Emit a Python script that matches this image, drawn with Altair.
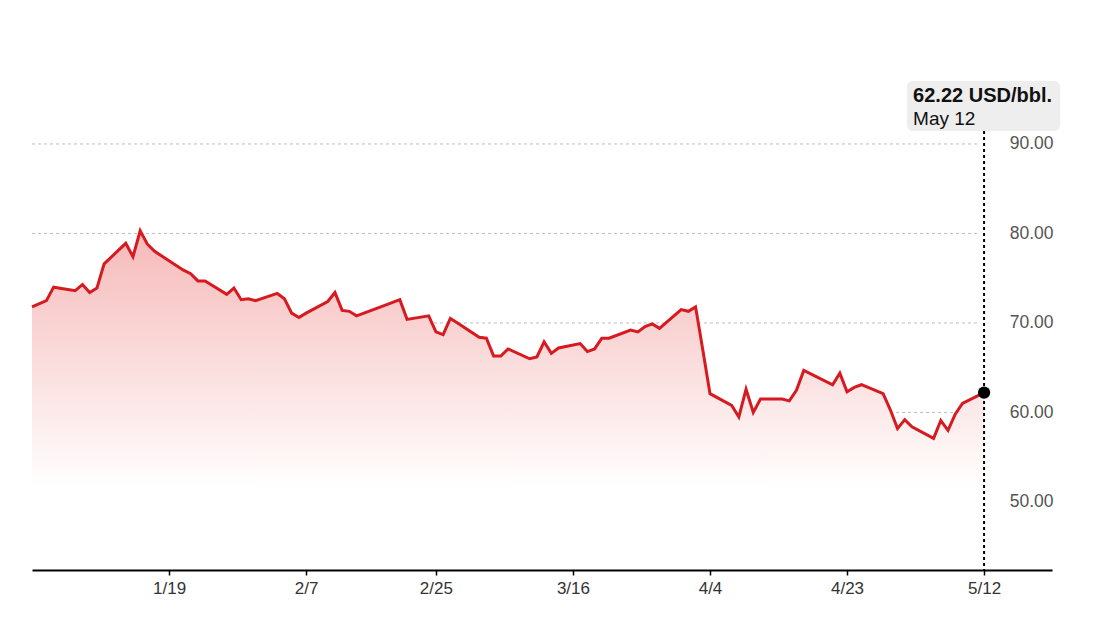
import altair as alt
import pandas as pd

# ---- data ----
dates = [
    "2024-12-31", "2025-01-02", "2025-01-03", "2025-01-06", "2025-01-07", "2025-01-08",
    "2025-01-09", "2025-01-10", "2025-01-13", "2025-01-14", "2025-01-15", "2025-01-16",
    "2025-01-17", "2025-01-21", "2025-01-22", "2025-01-23", "2025-01-24", "2025-01-27",
    "2025-01-28", "2025-01-29", "2025-01-30", "2025-01-31", "2025-02-03", "2025-02-04",
    "2025-02-05", "2025-02-06", "2025-02-07", "2025-02-10", "2025-02-11", "2025-02-12",
    "2025-02-13", "2025-02-14", "2025-02-18", "2025-02-19", "2025-02-20", "2025-02-21",
    "2025-02-24", "2025-02-25", "2025-02-26", "2025-02-27", "2025-02-28", "2025-03-03",
    "2025-03-04", "2025-03-05", "2025-03-06", "2025-03-07", "2025-03-10", "2025-03-11",
    "2025-03-12", "2025-03-13", "2025-03-14", "2025-03-17", "2025-03-18", "2025-03-19",
    "2025-03-20", "2025-03-21", "2025-03-24", "2025-03-25", "2025-03-26", "2025-03-27",
    "2025-03-28", "2025-03-31", "2025-04-01", "2025-04-02", "2025-04-03", "2025-04-04",
    "2025-04-07", "2025-04-08", "2025-04-09", "2025-04-10", "2025-04-11", "2025-04-14",
    "2025-04-15", "2025-04-16", "2025-04-17", "2025-04-21", "2025-04-22", "2025-04-23",
    "2025-04-24", "2025-04-25", "2025-04-28", "2025-04-29", "2025-04-30", "2025-05-01",
    "2025-05-02", "2025-05-05", "2025-05-06", "2025-05-07", "2025-05-08", "2025-05-09",
    "2025-05-12",
]
prices = [
    71.8, 72.5, 74.0, 73.6, 74.3, 73.4,
    73.9, 76.6, 78.9, 77.4, 80.3, 78.8,
    78.0, 75.9, 75.5, 74.7, 74.7, 73.2,
    73.9, 72.6, 72.7, 72.5, 73.3, 72.7,
    71.1, 70.6, 71.1, 72.4, 73.4, 71.4,
    71.3, 70.8, 72.0, 72.3, 72.6, 70.4,
    70.8, 69.0, 68.7, 70.5, 70.0, 68.4,
    68.3, 66.3, 66.3, 67.1, 66.0, 66.2,
    67.9, 66.6, 67.2, 67.7, 66.8, 67.1,
    68.3, 68.3, 69.2, 69.0, 69.6, 69.9,
    69.4, 71.5, 71.3, 71.8, 67.0, 62.1,
    60.8, 59.5, 62.6, 60.0, 61.5, 61.5,
    61.3, 62.5, 64.7, 63.1, 64.4, 62.3,
    62.8, 63.1, 62.1, 60.3, 58.2, 59.2,
    58.4, 57.1, 59.1, 58.0, 59.8, 61.0,
    62.22,
]
tick_labels = ["1/19", "2/7", "2/25", "3/16", "4/4", "4/23", "5/12"]
y_ticks = [50, 60, 70, 80, 90]
unit = "USD/bbl."
annotation_date_label = "May 12"

Y_MIN, Y_MAX = 42.4, 100.05
W, H = 1020, 516


def ms(s):
    return int(pd.Timestamp(s, tz="UTC").value // 10**6)


df = pd.DataFrame({"date": [ms(d) for d in dates], "price": prices})
df["base"] = Y_MIN
last = pd.DataFrame({"date": [ms(dates[-1])], "price": [prices[-1]],
                     "l1": [f"{prices[-1]:.2f} {unit}"], "l2": [annotation_date_label]})
grid_df = pd.DataFrame({"v": y_ticks})
grid_df["x0"] = ms("2024-12-31")
grid_df["x1"] = ms("2025-05-11 06:00")

tick_values = [ms(f"2025-{t.split('/')[0].zfill(2)}-{t.split('/')[1].zfill(2)}") for t in tick_labels]
x_domain = [ms("2024-12-31"), ms("2025-05-21 10:00")]
x_scale = alt.Scale(type="utc", domain=x_domain)
y_scale = alt.Scale(domain=[Y_MIN, Y_MAX], zero=False, nice=False)

FONT = "Liberation Sans"
RED = "#d71920"

x_axis = alt.Axis(
    values=tick_values, labelExpr="utcFormat(datum.value, '%-m/%-d')",
    title=None, grid=False, domainColor="#000000", domainWidth=2,
    tickColor="#000000", tickSize=5, tickWidth=1.5, labelPadding=5,
    labelFont=FONT, labelFontSize=17, labelColor="#333333", zindex=1,
)
y_axis = alt.Axis(
    orient="right", values=y_ticks, format=".2f", title=None, grid=False,
    domain=False, ticks=False, tickSize=0, labelAlign="right", labelPadding=1,
    labelFont=FONT, labelFontSize=17.5, labelColor="#555555", labelBaseline="middle",
    zindex=1,
)


def X(field):
    return alt.X(field, scale=x_scale, axis=x_axis)


def Y(field):
    return alt.Y(field, scale=y_scale, axis=y_axis)


grid = alt.Chart(grid_df).mark_rule(color="#bdbdbd", strokeDash=[3, 3], strokeWidth=1).encode(
    x=X("x0:Q"), x2="x1:Q", y=Y("v:Q"),
)

area = alt.Chart(df).mark_area(
    color=alt.Gradient(
        gradient="linear",
        stops=[alt.GradientStop(color="#ffffff", offset=0),
               alt.GradientStop(color="#ffffff", offset=0.24),
               alt.GradientStop(color="#f6b9b9", offset=1)],
        x1=1, x2=1, y1=1, y2=0,
    )
).encode(x=X("date:Q"), y=Y("price:Q"), y2="base:Q")

line = alt.Chart(df).mark_line(color=RED, strokeWidth=3, strokeJoin="miter").encode(
    x=X("date:Q"), y=Y("price:Q"),
)

cross = alt.Chart(last).mark_rule(color="#000000", strokeWidth=2, strokeDash=[3, 3]).encode(
    x=X("date:Q"), y=alt.value(77), y2=alt.value(H),
)

dot = alt.Chart(last).mark_circle(color="#000000", opacity=1, size=150).encode(
    x=X("date:Q"), y=Y("price:Q"),
)

last_box = last.assign(b0=ms("2025-05-01 07:00"), b1=ms("2025-05-22 13:00"))
box = alt.Chart(last_box).mark_rect(color="#eeeeee", cornerRadius=6).encode(
    x=X("b0:Q"), x2="b1:Q", y=alt.value(27), y2=alt.value(77),
)

t1 = alt.Chart(last).mark_text(
    align="left", baseline="alphabetic", dx=-71, font=FONT, fontSize=20,
    fontWeight="bold", color="#111111",
).encode(x=X("date:Q"), y=alt.value(48), text="l1:N")

t2 = alt.Chart(last).mark_text(
    align="left", baseline="alphabetic", dx=-71, font=FONT, fontSize=19,
    color="#111111",
).encode(x=X("date:Q"), y=alt.value(71), text="l2:N")

chart = alt.layer(grid, area, line, cross, dot, box, t1, t2).properties(
    width=W, height=H,
    padding={"left": 24, "top": 46, "right": 40, "bottom": 40},
    autosize="none",
).configure_view(stroke=None)

chart.save("out.html", embed_options={"renderer": "svg", "actions": False})
